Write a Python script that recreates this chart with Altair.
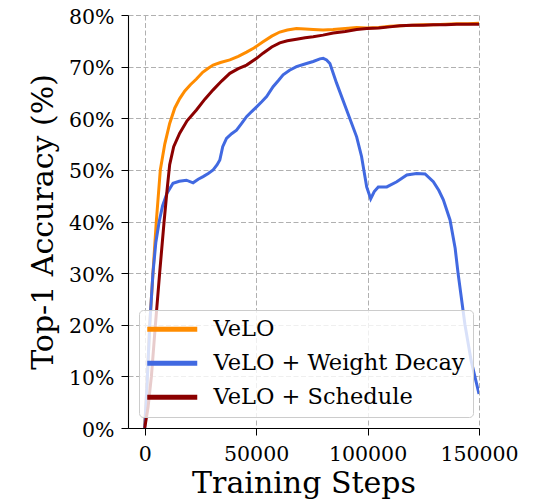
import altair as alt
import pandas as pd

# Top-1 accuracy (%) against training step for the three VeLO runs
SERIES = ["VeLO", "VeLO + Weight Decay", "VeLO + Schedule"]
COLORS = ["#ff8c00", "#4169e1", "#8b0000"]

VELO_STEPS = [0, 1000, 2250, 3700, 5200, 7000, 9000, 11200, 13500, 15700, 18000,
              20500, 23200, 26000, 28500, 30700, 34000, 38200, 42000, 45700, 49000,
              53100, 57000, 60600, 64000, 68100, 72000, 75600, 80000, 84500, 90000,
              95100, 100000, 105000, 110000, 115000, 120000, 125000, 130000, 135000,
              140000, 145000, 150000]
VELO_ACC = [0.5, 8, 20, 30, 40, 50, 55, 59, 62, 63.8, 65.3,
            66.5, 67.6, 68.9, 69.7, 70.3, 70.8, 71.3, 72.0, 72.8, 73.6,
            74.8, 75.9, 76.7, 77.1, 77.4, 77.3, 77.2, 77.1, 77.2, 77.4,
            77.6, 77.5, 77.6, 77.8, 77.9, 78.0, 78.1, 78.1, 78.2,
            78.3, 78.3, 78.4]

WD_STEPS = [0, 1000, 2250, 3700, 5000, 6500, 8000, 10000, 12700, 15500, 18700,
            21700, 24000, 26200, 28500, 30700, 32500, 33700, 35000, 36700, 39000,
            41200, 43500, 45700, 48000, 50200, 52500, 54700, 57600, 60000, 62100,
            65000, 68100, 72600, 75600, 78600, 80100, 81600, 83100, 86100, 90600,
            95100, 97300, 99600, 101400, 103000, 104800, 108600, 113100, 117600,
            122000, 125800, 129500, 132000, 134000, 137000, 139300, 140600, 143700,
            146500, 150000]
WD_ACC = [0, 8, 20, 30, 36, 40, 43, 45.5, 47.4, 47.8, 48.0,
          47.5, 48.2, 48.7, 49.3, 50.0, 51.0, 51.9, 54.5, 56.1, 57.0,
          57.7, 59.0, 60.3, 61.3, 62.2, 63.2, 64.2, 66.1, 67.3, 68.4,
          69.3, 70.0, 70.6, 71.0, 71.5, 71.6, 71.3, 70.6, 66.8, 61.6,
          56.4, 52.6, 46.7, 44.4, 45.8, 46.7, 46.7, 47.7, 49.0,
          49.3, 49.2, 47.7, 46.0, 44.2, 40.3, 34.8, 30, 20,
          13, 6.6]

SCHED_STEPS = [0, 1500, 3000, 4800, 6700, 8700, 10000, 11200, 13000, 15700, 19000,
               23200, 27000, 30700, 34500, 38200, 42000, 45700, 50200, 53100, 57000,
               60600, 64000, 68100, 72000, 75600, 80000, 84600, 90000, 95100, 99600,
               105000, 110000, 114500, 120000, 125000, 129500, 135000, 140000, 145000,
               150000]
SCHED_ACC = [0, 4, 10, 20, 30, 40, 46, 51, 54.5, 57.1, 59.5,
             61.6, 63.7, 65.5, 67.2, 68.7, 69.6, 70.3, 71.6, 72.6, 73.8,
             74.6, 75.0, 75.3, 75.6, 75.8, 76.1, 76.5, 76.8, 77.2, 77.4,
             77.5, 77.7, 77.9, 78.0, 78.0, 78.1, 78.1, 78.2, 78.2,
             78.2]

X_TICKS = [0, 50000, 100000, 150000]
Y_TICKS = [0, 10, 20, 30, 40, 50, 60, 70, 80]

rows = []
for name, steps, acc in zip(SERIES, [VELO_STEPS, WD_STEPS, SCHED_STEPS],
                            [VELO_ACC, WD_ACC, SCHED_ACC]):
    for s, a in zip(steps, acc):
        rows.append({"series": name, "step": s, "acc": a})
df = pd.DataFrame(rows)

SERIF = "DejaVu Serif"
GRID = dict(grid=True, gridColor="#b0b0b0", gridDash=[5, 2.5], gridWidth=1)

# long horizontal legend swatch; the small symbol size keeps rows compact
SWATCH = "M-2.2,0H7.8"

chart = (
    alt.Chart(df)
    .mark_line(strokeWidth=3, clip=True)
    .encode(
        x=alt.X(
            "step:Q",
            scale=alt.Scale(domain=[-7500, 150000], nice=False, zero=False),
            axis=alt.Axis(
                values=X_TICKS, format="d", title="Training Steps",
                labelFont=SERIF, labelFontSize=20.5, labelColor="black",
                labelPadding=9.5, labelFlush=False,
                tickSize=7, tickColor="black", tickWidth=1,
                domainColor="black", domainWidth=1.1,
                titleFont=SERIF, titleFontSize=30, titleFontWeight="normal",
                titleColor="black", titleBaseline="alphabetic", titleY=64.7,
                **GRID,
            ),
        ),
        y=alt.Y(
            "acc:Q",
            scale=alt.Scale(domain=[0, 80], nice=False),
            axis=alt.Axis(
                values=Y_TICKS, labelExpr="datum.value + '%'",
                title="Top-1 Accuracy (%)",
                labelFont=SERIF, labelFontSize=20.5, labelColor="black",
                labelPadding=7, labelBaseline="alphabetic", labelOffset=8,
                labelFlush=False,
                tickSize=7, tickColor="black", tickWidth=1,
                domainColor="black", domainWidth=1.1,
                titleFont=SERIF, titleFontSize=30, titleFontWeight="normal",
                titleColor="black", titleBaseline="alphabetic",
                titleAlign="center", titleAngle=270, titleX=-76, titleY=206.5,
                **GRID,
            ),
        ),
        color=alt.Color(
            "series:N",
            scale=alt.Scale(domain=SERIES, range=COLORS),
            sort=SERIES,
            legend=alt.Legend(
                orient="none", legendX=11, legendY=295, title=None,
                symbolType=SWATCH, symbolStrokeWidth=5, symbolSize=100,
                symbolOpacity=1,
                labelFont=SERIF, labelFontSize=22.5, labelColor="black",
                labelOffset=44, labelLimit=500, rowPadding=11, padding=8,
                fillColor="rgba(255,255,255,0.8)", strokeColor="#cccccc",
                cornerRadius=4,
            ),
        ),
    )
    .properties(
        width=351,
        height=413,
        autosize=alt.AutoSizeParams(type="none"),
        padding={"left": 128, "top": 15, "right": 65, "bottom": 72},
    )
    .configure_view(stroke=None)
)

chart.save("out.html", embed_options={"renderer": "svg", "actions": False})
